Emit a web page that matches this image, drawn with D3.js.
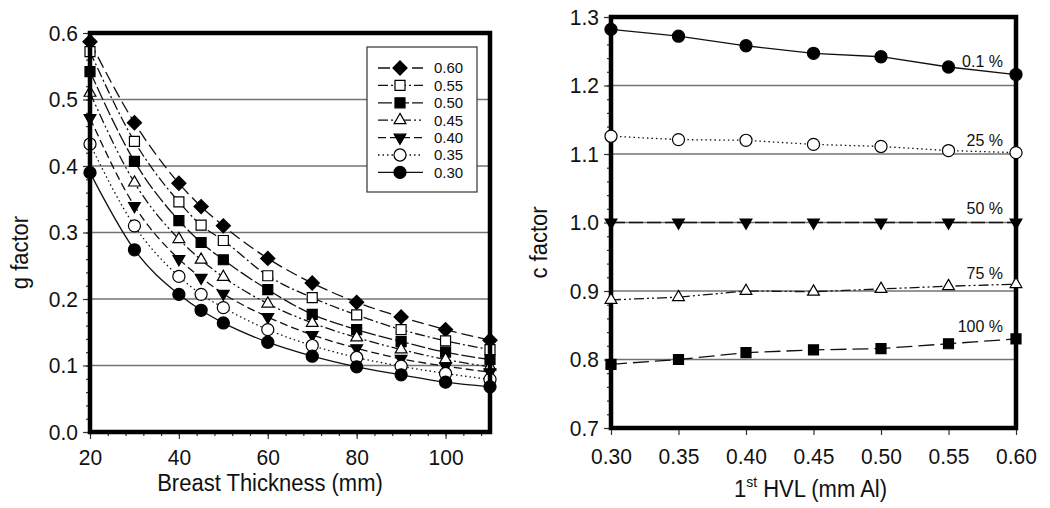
<!DOCTYPE html>
<html lang="en">
<head>
<meta charset="UTF-8">
<script src="https://cdn.jsdelivr.net/npm/d3@7.8.5/dist/d3.min.js"></script>
<title>g factor and c factor</title>
<style>
  body { margin: 0; background: #fff; }
  text { font-family: "Liberation Sans", Arial, sans-serif; fill: #111; }
</style>
</head>
<body>
<svg width="1050" height="508"></svg>
<script>
// ---- left chart data: g factor vs breast thickness, one series per HVL
var thickness = [20, 30, 40, 45, 50, 60, 70, 80, 90, 100, 110];
var g060 = [0.587, 0.465, 0.374, 0.339, 0.310, 0.261, 0.224, 0.195, 0.173, 0.154, 0.138];
var g055 = [0.572, 0.437, 0.346, 0.311, 0.288, 0.235, 0.202, 0.176, 0.154, 0.137, 0.124];
var g050 = [0.542, 0.407, 0.318, 0.285, 0.259, 0.214, 0.177, 0.154, 0.136, 0.120, 0.109];
var g045 = [0.510, 0.375, 0.290, 0.259, 0.233, 0.193, 0.164, 0.142, 0.124, 0.109, 0.098];
var g040 = [0.472, 0.340, 0.260, 0.232, 0.208, 0.173, 0.146, 0.126, 0.110, 0.099, 0.090];
var g035 = [0.433, 0.310, 0.234, 0.207, 0.187, 0.154, 0.130, 0.112, 0.099, 0.088, 0.079];
var g030 = [0.390, 0.274, 0.207, 0.183, 0.164, 0.135, 0.114, 0.098, 0.086, 0.075, 0.068];
var hvlNames = ["0.60", "0.55", "0.50", "0.45", "0.40", "0.35", "0.30"];
var gTicksX = [20, 40, 60, 80, 100];
var gTicksY = [0.0, 0.1, 0.2, 0.3, 0.4, 0.5, 0.6];

// ---- right chart data: c factor vs 1st HVL, one series per glandularity
var hvl = [0.30, 0.35, 0.40, 0.45, 0.50, 0.55, 0.60];
var c01 = [1.282, 1.272, 1.258, 1.247, 1.242, 1.227, 1.216];
var c25 = [1.126, 1.121, 1.120, 1.114, 1.111, 1.105, 1.102];
var c50 = [1.000, 1.000, 1.000, 1.000, 1.000, 1.000, 1.000];
var c75 = [0.887, 0.891, 0.900, 0.899, 0.903, 0.907, 0.910];
var c100 = [0.793, 0.800, 0.810, 0.814, 0.816, 0.823, 0.830];
var glandNames = ["0.1 %", "25 %", "50 %", "75 %", "100 %"];
var cTicksX = [0.30, 0.35, 0.40, 0.45, 0.50, 0.55, 0.60];
var cTicksY = [0.7, 0.8, 0.9, 1.0, 1.1, 1.2, 1.3];

var svg = d3.select("svg");

// marker shapes
function marker(sel, kind) {
  var shapes = {
    diamond: [d3.symbolSquare, 100, 45, "#000"],
    sqOpen: [d3.symbolSquare, 100, 0, "#fff"],
    sqFill: [d3.symbolSquare, 100, 0, "#000"],
    triOpen: [d3.symbolTriangle, 60, 0, "#fff"],
    triDown: [d3.symbolTriangle, 60, 180, "#000"],
    cirOpen: [d3.symbolCircle, 115, 0, "#fff"],
    cirFill: [d3.symbolCircle, 115, 0, "#000"]
  };
  var s = shapes[kind];
  sel.attr("d", d3.symbol().type(s[0]).size(s[1]))
    .attr("fill", s[3]).attr("stroke", "#000").attr("stroke-width", 1.2)
    .attr("data-rot", s[2]);
}

function drawFrame(g, w, h, y, gridVals) {
  g.selectAll(".grid").data(gridVals).enter().append("line")
    .attr("x1", 0).attr("x2", w)
    .attr("y1", function(d){ return y(d); }).attr("y2", function(d){ return y(d); })
    .attr("stroke", "#737373").attr("stroke-width", 1.5);
}

function drawBorder(g, w, h) {
  g.append("rect").attr("x", 0).attr("y", 0).attr("width", w).attr("height", h)
    .attr("fill", "none").attr("stroke", "#000").attr("stroke-width", 4.5);
}

// the picture's lettering is a little taller than plain Arial
function styleAxis(a) {
  a.select(".domain").remove();
  a.selectAll("line").attr("stroke", "#333").attr("stroke-width", 1.2);
  a.selectAll("text").style("font-size", "21px").attr("fill", "#111")
    .attr("transform", "scale(1,1.08)");
}

// =================== LEFT CHART ===================
var L = { x: 90, y: 33, w: 400, h: 399 };
var gl = svg.append("g").attr("transform", "translate(" + L.x + "," + L.y + ")");
var xL = d3.scaleLinear().domain([20, 110]).range([0, L.w]);
var yL = d3.scaleLinear().domain([0, 0.6]).range([L.h, 0]);

drawFrame(gl, L.w, L.h, yL, [0.1, 0.2, 0.3, 0.4, 0.5]);

// minor ticks
gl.append("g").call(d3.axisLeft(yL).tickValues(d3.range(0, 0.601, 0.02)).tickSize(4).tickFormat(""))
  .call(styleAxis);
gl.append("g").attr("transform", "translate(0," + L.h + ")")
  .call(d3.axisBottom(xL).tickValues(d3.range(20, 110, 4)).tickSize(4).tickFormat(""))
  .call(styleAxis);
// major ticks
gl.append("g").call(d3.axisLeft(yL).tickValues(gTicksY).tickSize(7).tickPadding(5).tickFormat(d3.format(".1f")))
  .call(styleAxis);
gl.append("g").attr("transform", "translate(0," + L.h + ")")
  .call(d3.axisBottom(xL).tickValues(gTicksX).tickSize(7).tickPadding(9).tickFormat(d3.format("d")))
  .call(styleAxis);

var gSeries = [
  { name: hvlNames[0], v: g060, m: "diamond", dash: "12,5" },
  { name: hvlNames[1], v: g055, m: "sqOpen", dash: "10,3,2,3" },
  { name: hvlNames[2], v: g050, m: "sqFill", dash: "14,3" },
  { name: hvlNames[3], v: g045, m: "triOpen", dash: "10,3,2,3,2,3" },
  { name: hvlNames[4], v: g040, m: "triDown", dash: "8,4" },
  { name: hvlNames[5], v: g035, m: "cirOpen", dash: "1.5,3" },
  { name: hvlNames[6], v: g030, m: "cirFill", dash: null }
];

var lineL = d3.line()
  .x(function(d, i){ return xL(thickness[i]); })
  .y(function(d){ return yL(d); })
  .curve(d3.curveMonotoneX);

gSeries.forEach(function(s) {
  gl.append("path").attr("d", lineL(s.v)).attr("fill", "none")
    .attr("stroke", "#111").attr("stroke-width", 1.3)
    .attr("stroke-dasharray", s.dash);
});
gSeries.forEach(function(s) {
  gl.selectAll(null).data(s.v).enter().append("path")
    .call(marker, s.m)
    .attr("transform", function(d, i){
      return "translate(" + xL(thickness[i]) + "," + yL(d) + ") rotate(" + d3.select(this).attr("data-rot") + ")";
    });
});

drawBorder(gl, L.w, L.h);

// legend
var lg = gl.append("g").attr("transform", "translate(277,14)");
lg.append("rect").attr("width", 110).attr("height", 145)
  .attr("fill", "#fff").attr("stroke", "#333").attr("stroke-width", 1.2);
gSeries.forEach(function(s, i) {
  var yy = 21 + i * 17.4;
  lg.append("line").attr("x1", 11).attr("x2", 56).attr("y1", yy).attr("y2", yy)
    .attr("stroke", "#111").attr("stroke-width", 1.3).attr("stroke-dasharray", s.dash);
  lg.append("path").call(marker, s.m)
    .attr("transform", function(){
      return "translate(33," + yy + ") rotate(" + d3.select(this).attr("data-rot") + ")";
    });
  lg.append("text").attr("x", 67).attr("y", yy).attr("dy", "0.36em")
    .style("font-size", "15px").text(s.name);
});

// axis titles
svg.append("text").attr("transform", "translate(" + (L.x + L.w / 2 - 20) + ",491) scale(1,1.1)")
  .attr("text-anchor", "middle").style("font-size", "22px").text("Breast Thickness (mm)");
svg.append("text").attr("transform", "translate(28," + (L.y + L.h / 2 + 20) + ") rotate(-90) scale(1,1.1)")
  .attr("text-anchor", "middle").style("font-size", "22px").text("g factor");

// =================== RIGHT CHART ===================
var R = { x: 611, y: 17, w: 405, h: 411 };
var gr = svg.append("g").attr("transform", "translate(" + R.x + "," + R.y + ")");
var xR = d3.scaleLinear().domain([0.30, 0.60]).range([0, R.w]);
var yR = d3.scaleLinear().domain([0.7, 1.3]).range([R.h, 0]);

drawFrame(gr, R.w, R.h, yR, [0.8, 0.9, 1.0, 1.1, 1.2]);

gr.append("g").call(d3.axisLeft(yR).tickValues(d3.range(0.7, 1.301, 0.02)).tickSize(4).tickFormat(""))
  .call(styleAxis);
gr.append("g").call(d3.axisLeft(yR).tickValues(cTicksY).tickSize(7).tickPadding(5).tickFormat(d3.format(".1f")))
  .call(styleAxis);
gr.append("g").attr("transform", "translate(0," + R.h + ")")
  .call(d3.axisBottom(xR).tickValues(cTicksX).tickSize(7).tickPadding(11).tickFormat(d3.format(".2f")))
  .call(styleAxis);

var cSeries = [
  { name: glandNames[0], v: c01, m: "cirFill", dash: null, ly: 61 },
  { name: glandNames[1], v: c25, m: "cirOpen", dash: "1.5,3", ly: 140 },
  { name: glandNames[2], v: c50, m: "triDown", dash: "14,4", ly: 208 },
  { name: glandNames[3], v: c75, m: "triOpen", dash: "10,3,2,3,2,3", ly: 273 },
  { name: glandNames[4], v: c100, m: "sqFill", dash: "16,6", ly: 326 }
];

var lineR = d3.line()
  .x(function(d, i){ return xR(hvl[i]); })
  .y(function(d){ return yR(d); });

cSeries.forEach(function(s) {
  gr.append("path").attr("d", lineR(s.v)).attr("fill", "none")
    .attr("stroke", "#111").attr("stroke-width", 1.3)
    .attr("stroke-dasharray", s.dash);
});

drawBorder(gr, R.w, R.h);

cSeries.forEach(function(s) {
  gr.selectAll(null).data(s.v).enter().append("path")
    .call(marker, s.m)
    .attr("transform", function(d, i){
      return "translate(" + xR(hvl[i]) + "," + yR(d) + ") rotate(" + d3.select(this).attr("data-rot") + ")";
    });
  svg.append("text").attr("transform", "translate(1003," + s.ly + ") scale(1,1.08)").attr("dy", "0.36em")
    .attr("text-anchor", "end").style("font-size", "16px").text(s.name);
});

var tR = svg.append("text").attr("transform", "translate(" + (R.x + R.w / 2 - 3) + ",497) scale(1,1.1)")
  .attr("text-anchor", "middle").style("font-size", "22px");
tR.append("tspan").text("1");
tR.append("tspan").attr("dy", -9).style("font-size", "14px").text("st");
tR.append("tspan").attr("dy", 9).text(" HVL (mm Al)");
svg.append("text").attr("transform", "translate(547," + (R.y + R.h / 2 + 20) + ") rotate(-90) scale(1,1.1)")
  .attr("text-anchor", "middle").style("font-size", "22px").text("c factor");
</script>
</body>
</html>
